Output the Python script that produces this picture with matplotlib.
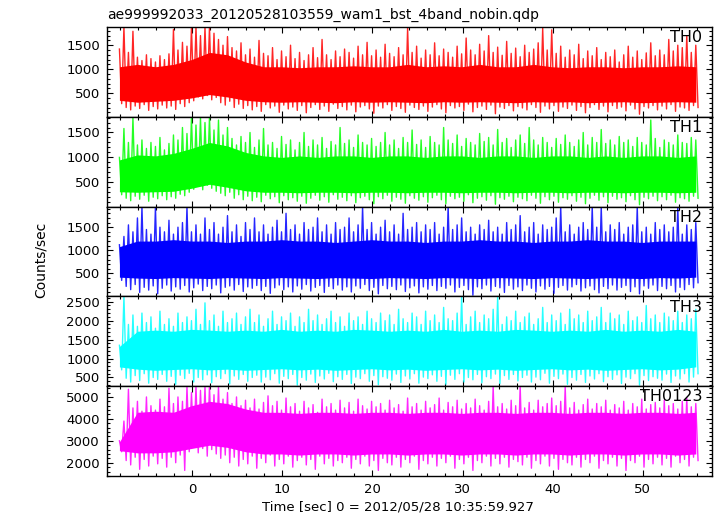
import numpy as np
import matplotlib
matplotlib.use("Agg")
import matplotlib.pyplot as plt
from matplotlib.ticker import MultipleLocator, FixedLocator

# ---------------- data ----------------
title = "ae999992033_20120528103559_wam1_bst_4band_nobin.qdp"
xlabel = "Time [sec] 0 = 2012/05/28 10:35:59.927"
ylabel = "Counts/sec"
names = ["TH0", "TH1", "TH2", "TH3", "TH0123"]
colors = ["#ff0000", "#00ff00", "#0000ff", "#00ffff", "#ff00ff"]

t_start = -8.1      # first sample time [s]
env_step = 0.5      # spacing of spike-envelope samples [s]
core_step = 2.0     # spacing of dense-core samples [s]

th0_hi = [1420, 1880, 1350, 1790, 1250, 1180, 1300, 1220, 1150, 1280,
          1200, 1320, 1830, 1400, 1560, 1480, 1880, 1880, 1700, 1880,
          1880, 1750, 1620, 1500, 1680, 1450, 1380, 1550, 1300, 1420,
          1250, 1600, 1330, 1280, 1450, 1200, 1380, 1260, 1500, 1220,
          1350, 1180, 1300, 1450, 1240, 1620, 1300, 1200, 1380, 1260,
          1420, 1350, 1230, 1480, 1300, 1560, 1280, 1400, 1250, 1520,
          1330, 1260, 1450, 1300, 1860, 1350, 1480, 1230, 1400, 1300,
          1550, 1280, 1420, 1350, 1250, 1480, 1320, 1650, 1400, 1300,
          1520, 1380, 1700, 1350, 1460, 1290, 1580, 1330, 1440, 1260,
          1500, 1350, 1420, 1550, 1860, 1400, 1820, 1330, 1480, 1250,
          1400, 1300, 1520, 1220, 1380, 1280, 1450, 1200, 1350, 1260,
          1400, 1150, 1300, 1480, 1250, 1380, 1200, 1340, 1550, 1280,
          1400, 1300, 1620, 1380, 1500, 1450, 1700, 1350, 1500]
th0_lo = [280, 200, 150, 230, 180, 260, 140, 220, 170, 250,
          190, 230, 160, 280, 220, 300, 340, 420, 380, 450,
          360, 410, 300, 250, 330, 200, 270, 180, 240, 150,
          220, 120, 260, 190, 230, 100, 250, 170, 210, 140,
          240, 90, 200, 260, 160, 230, 120, 270, 180, 220,
          150, 250, 110, 210, 240, 170, 80, 230, 190, 260,
          140, 220, 180, 100, 250, 200, 160, 230, 120, 210,
          260, 170, 90, 240, 190, 220, 140, 270, 110, 200,
          230, 160, 250, 70, 210, 180, 240, 130, 220, 190,
          150, 260, 200, 100, 230, 170, 240, 120, 210, 180,
          250, 140, 220, 90, 200, 260, 160, 230, 110, 240,
          180, 210, 130, 250, 170, 60, 220, 190, 240, 150,
          230, 170, 260, 120, 210, 190, 140, 240, 200]
th0_core_hi = [1050, 1100, 1050, 1100, 1200, 1350, 1300, 1150, 1050, 1050,
               1030, 1050, 1050, 1070, 1050, 1050, 1100, 1050, 1070, 1050,
               1100, 1050, 1050, 1100, 1050, 1030, 1050, 1050, 1030, 1050,
               1050, 1070, 1050]
th0_core_lo = [350, 310, 330, 350, 400, 470, 420, 350, 320, 310,
               320, 310, 300, 320, 310, 320, 310, 300, 320, 310,
               320, 310, 300, 320, 310, 320, 300, 310, 320, 300,
               310, 320, 310]

th1_hi = [1000, 1580, 1300, 1800, 1250, 1350, 1180, 1300, 1220, 1400,
          1150, 1280, 1450, 1350, 1600, 1480, 1800, 1650, 1800, 1700,
          1800, 1550, 1750, 1450, 1600, 1380, 1250, 1420, 1300, 1500,
          1200, 1350, 1580, 1250, 1300, 1180, 1420, 1260, 1350, 1150,
          1300, 1500, 1220, 1350, 1250, 1400, 1180, 1320, 1250, 1600,
          1280, 1350, 1200, 1450, 1300, 1250, 1380, 1220, 1300, 1500,
          1250, 1350, 1180, 1400, 1300, 1550, 1260, 1350, 1200, 1420,
          1300, 1250, 1600, 1350, 1280, 1450, 1220, 1380, 1300, 1250,
          1480, 1320, 1400, 1250, 1560, 1300, 1380, 1200, 1350, 1450,
          1280, 1600, 1350, 1250, 1400, 1300, 1200, 1380, 1260, 1450,
          1300, 1220, 1350, 1500, 1250, 1400, 1300, 1560, 1280, 1350,
          1250, 1420, 1300, 1350, 1220, 1400, 1300, 1250, 1750, 1380,
          1200, 1350, 1300, 1250, 1450, 1300, 1280, 1400, 1350]
th1_lo = [250, 180, 130, 220, 160, 240, 120, 200, 170, 230,
          150, 210, 180, 260, 230, 300, 360, 420, 350, 440,
          380, 320, 280, 230, 300, 180, 250, 150, 220, 130,
          200, 110, 240, 170, 210, 90, 230, 150, 190, 120,
          220, 80, 180, 240, 140, 210, 100, 250, 160, 200,
          130, 230, 90, 190, 220, 150, 70, 210, 170, 240,
          120, 200, 160, 80, 230, 180, 140, 210, 100, 190,
          240, 150, 70, 220, 170, 200, 120, 250, 90, 180,
          210, 140, 230, 60, 190, 160, 220, 110, 200, 170,
          130, 240, 180, 80, 210, 150, 220, 100, 190, 160,
          230, 120, 200, 70, 180, 240, 140, 210, 90, 220,
          160, 190, 110, 230, 150, 50, 200, 170, 220, 130,
          210, 150, 240, 100, 190, 170, 120, 220, 180]
th1_core_hi = [950, 1050, 1030, 1080, 1180, 1300, 1230, 1100, 1030, 1000,
               1030, 1000, 1030, 1030, 1000, 1030, 1030, 1000, 1030, 1030,
               1000, 1030, 1030, 1000, 1030, 1030, 1000, 1030, 1000, 1030,
               1030, 1000, 1030]
th1_core_lo = [310, 300, 310, 320, 380, 460, 400, 330, 300, 300,
               290, 300, 300, 290, 300, 300, 290, 300, 300, 290,
               300, 300, 290, 300, 300, 290, 300, 300, 290, 300,
               300, 290, 300]

th2_hi = [1120, 1300, 1550, 1400, 1700, 1945, 1450, 1350, 1945, 1500,
          1400, 1650, 1350, 1500, 1600, 1945, 1400, 1550, 1350, 1700,
          1450, 1600, 1350, 1500, 1750, 1400, 1550, 1300, 1600, 1450,
          1700, 1400, 1550, 1350, 1500, 1650, 1400, 1800, 1450, 1550,
          1350, 1600, 1450, 1500, 1700, 1400, 1550, 1350, 1600, 1450,
          1500, 1700, 1400, 1550, 1945, 1450, 1600, 1350, 1500, 1650,
          1400, 1550, 1350, 1800, 1450, 1500, 1600, 1400, 1550, 1450,
          1600, 1350, 1500, 1945, 1450, 1550, 1700, 1400, 1500, 1350,
          1550, 1450, 1650, 1400, 1500, 1350, 1600, 1450, 1550, 1750,
          1400, 1500, 1600, 1350, 1550, 1450, 1500, 1700, 1945, 1400,
          1550, 1350, 1500, 1600, 1450, 1945, 1500, 1945, 1400, 1550,
          1450, 1600, 1350, 1500, 1550, 1945, 1400, 1500, 1350, 1600,
          1450, 1550, 1400, 1500, 1945, 1350, 1550, 1450, 1600]
th2_lo = [350, 220, 150, 260, 90, 200, 140, 230, 60, 180,
          250, 120, 210, 160, 240, 100, 190, 270, 130, 220,
          170, 250, 80, 200, 230, 140, 260, 110, 210, 180,
          240, 130, 220, 70, 190, 250, 150, 210, 100, 230,
          160, 260, 120, 200, 240, 90, 220, 170, 250, 140,
          210, 100, 230, 180, 260, 130, 200, 60, 240, 170,
          220, 150, 250, 110, 190, 230, 80, 210, 160, 240,
          130, 220, 180, 250, 100, 200, 240, 150, 30, 210,
          170, 250, 120, 220, 190, 90, 240, 160, 210, 130,
          250, 180, 100, 230, 160, 220, 70, 200, 240, 140,
          210, 260, 120, 190, 230, 150, 80, 220, 170, 250,
          140, 200, 240, 110, 210, 60, 230, 180, 250, 130,
          220, 170, 240, 100, 200, 150, 260, 190, 300]
th2_core_hi = [1080, 1200, 1200, 1230, 1200, 1200, 1170, 1200, 1200, 1230,
               1200, 1200, 1170, 1200, 1230, 1200, 1200, 1170, 1200, 1200,
               1230, 1200, 1200, 1170, 1200, 1200, 1230, 1200, 1200, 1170,
               1200, 1200, 1200]
th2_core_lo = [420, 400, 390, 410, 400, 390, 410, 400, 390, 410,
               400, 390, 410, 400, 390, 410, 400, 390, 410, 400,
               390, 410, 400, 390, 410, 400, 390, 410, 400, 390,
               410, 400, 420]

th3_hi = [1350, 2640, 1900, 2150, 1850, 2200, 1950, 2100, 1800, 2250,
          1900, 2050, 1850, 2200, 1950, 2100, 2000, 2300, 1900, 2470,
          2000, 2150, 1850, 2250, 1950, 2050, 2200, 1900, 2100, 2300,
          1950, 2150, 1850, 2050, 2250, 1900, 2100, 2000, 2200, 1850,
          2100, 1950, 2300, 2000, 2150, 1900, 2050, 2250, 1950, 2100,
          1850, 2200, 2000, 2100, 1900, 2250, 2050, 1950, 2200, 2000,
          2150, 1900, 2300, 2050, 1950, 2200, 2100, 1900, 2250, 2000,
          2150, 1950, 2350, 2050, 2000, 2200, 2640, 1900, 2100, 2250,
          1950, 2150, 2050, 2300, 2640, 1900, 2100, 2000, 2250, 1950,
          2100, 2200, 1900, 2050, 2350, 1950, 2150, 2000, 2200, 1900,
          2300, 2050, 2150, 1950, 2250, 2000, 2100, 2350, 1950, 2200,
          2050, 2150, 1900, 2250, 2000, 2100, 1950, 2400, 2050, 2150,
          1950, 2200, 2100, 2000, 2250, 1950, 2150, 2050, 2300]
th3_lo = [700, 480, 380, 550, 420, 600, 350, 500, 450, 580,
          400, 530, 320, 560, 470, 610, 380, 500, 440, 570,
          360, 520, 470, 600, 330, 540, 450, 580, 400, 500,
          560, 380, 510, 440, 600, 350, 530, 470, 580, 300,
          500, 430, 590, 370, 540, 460, 610, 390, 520, 450,
          580, 340, 510, 470, 600, 400, 550, 310, 520, 480,
          430, 590, 370, 540, 460, 600, 350, 510, 470, 570,
          400, 530, 320, 560, 450, 600, 380, 500, 440, 580,
          360, 520, 470, 590, 340, 550, 450, 580, 410, 500,
          560, 380, 510, 440, 610, 350, 530, 470, 590, 320,
          500, 430, 580, 370, 540, 460, 600, 390, 520, 450,
          570, 340, 510, 470, 600, 300, 550, 420, 520, 480,
          430, 590, 370, 540, 460, 600, 380, 510, 600]
th3_core_hi = [1320, 1720, 1750, 1720, 1770, 1750, 1720, 1750, 1720, 1770,
               1720, 1750, 1720, 1770, 1750, 1720, 1750, 1720, 1770, 1720,
               1750, 1720, 1770, 1750, 1720, 1750, 1720, 1770, 1720, 1750,
               1720, 1770, 1720]
th3_core_lo = [780, 720, 690, 710, 730, 700, 720, 690, 710, 730,
               700, 720, 690, 710, 730, 700, 720, 690, 710, 730,
               700, 720, 690, 710, 730, 700, 720, 690, 710, 730,
               700, 720, 780]

th0123_hi = [3000, 3900, 5350, 4500, 4800, 4350, 5000, 4600, 4400, 4900,
             4550, 5400, 4700, 5000, 4800, 5490, 5200, 5490, 5300, 5490,
             5490, 5100, 5490, 4900, 5200, 4700, 5000, 4600, 4850, 4500,
             4900, 4450, 4750, 5050, 4600, 4800, 4400, 4950, 4550, 4700,
             4350, 4800, 4500, 4650, 4300, 4900, 4550, 4700, 4400, 4850,
             4500, 4750, 4350, 4900, 4600, 4450, 4800, 4550, 4700, 4400,
             4850, 4500, 4650, 4350, 4950, 4550, 4700, 4400, 4800, 4500,
             4650, 4950, 4400, 4750, 4550, 4850, 4450, 4700, 4500, 4900,
             4600, 4400, 4800, 5490, 4550, 4700, 4450, 4850, 4600, 5490,
             4500, 4750, 4400, 4850, 4550, 4700, 4950, 4600, 4800, 5490,
             4500, 4750, 4400, 4650, 4900, 4450, 4700, 4550, 4850, 4400,
             4650, 4500, 4800, 4400, 4700, 4550, 4900, 4450, 4650, 4750,
             4500, 4850, 4600, 4700, 4450, 4800, 4950, 4550, 4700]
th0123_lo = [2500, 2100, 1900, 2250, 1700, 2150, 1850, 2300, 1950, 2200,
             1800, 2250, 2000, 2350, 1650, 2500, 2700, 2450, 2650, 2300,
             2600, 2400, 2200, 2350, 2000, 2250, 1850, 2150, 1950, 2300,
             1750, 2200, 2000, 2350, 1850, 2150, 1950, 2300, 1800, 2100,
             2250, 1900, 2150, 1700, 2300, 1950, 2200, 1850, 2100, 2000,
             2250, 1750, 2150, 1950, 2300, 1850, 2100, 1650, 2200, 2000,
             1900, 2250, 1800, 2150, 2000, 2300, 1700, 2100, 1950, 2250,
             1850, 2200, 2000, 2300, 1750, 2150, 1950, 2250, 1650, 2100,
             2000, 2300, 1850, 2200, 1950, 2250, 1800, 2150, 2050, 1900,
             2250, 1750, 2100, 1950, 2300, 1850, 2200, 1700, 2150, 2000,
             1900, 2250, 1800, 2150, 2000, 2300, 1750, 2100, 1950, 2250,
             1850, 2200, 1650, 2100, 2000, 2300, 1800, 2150, 1950, 2250,
             1900, 2200, 1800, 2300, 2000, 2150, 1850, 2250, 2100]
th0123_core_hi = [2950, 4300, 4350, 4300, 4600, 4800, 4700, 4450, 4300, 4300,
                  4250, 4300, 4300, 4250, 4300, 4300, 4250, 4300, 4300, 4250,
                  4300, 4300, 4250, 4300, 4300, 4250, 4300, 4300, 4250, 4300,
                  4300, 4250, 4300]
th0123_core_lo = [2550, 2450, 2450, 2500, 2650, 2800, 2700, 2500, 2400, 2400,
                  2350, 2400, 2400, 2350, 2400, 2400, 2350, 2400, 2400, 2350,
                  2400, 2400, 2350, 2400, 2400, 2350, 2400, 2400, 2350, 2400,
                  2400, 2350, 2400]

his = [th0_hi, th1_hi, th2_hi, th3_hi, th0123_hi]
los = [th0_lo, th1_lo, th2_lo, th3_lo, th0123_lo]
core_his = [th0_core_hi, th1_core_hi, th2_core_hi, th3_core_hi, th0123_core_hi]
core_los = [th0_core_lo, th1_core_lo, th2_core_lo, th3_core_lo, th0123_core_lo]

# axis settings per panel
ylims = [(6, 1880), (12, 1815), (4, 1945), (270, 2640), (1395, 5490)]
ymajor_ticks = [[500, 1000, 1500], [500, 1000, 1500], [500, 1000, 1500],
                [500, 1000, 1500, 2000, 2500], [2000, 3000, 4000, 5000]]
yminor = [100, 100, 100, 100, 200]
xlim = (-9.48, 57.7)

# ---------------- figure ----------------
plt.rcParams['font.family'] = ['DejaVu Sans']
W, H = 717, 516
fig = plt.figure(figsize=(W / 100, H / 100), dpi=100)

left_px, right_px = 107, 712
top_px, bot_px = 27, 476
ph = (bot_px - top_px) / 5.0
fs = 9.5

for i in range(5):
    y0 = 1 - (top_px + ph * (i + 1)) / H
    ax = fig.add_axes([left_px / W, y0, (right_px - left_px) / W, ph / H])

    hi = np.asarray(his[i], float)
    lo = np.asarray(los[i], float)
    n = min(len(hi), len(lo))
    hi, lo = hi[:n], lo[:n]
    t = t_start + env_step * np.arange(n)
    xs = np.empty(2 * n)
    ys = np.empty(2 * n)
    xs[0::2] = t
    xs[1::2] = t + env_step / 2
    ys[0::2] = hi
    ys[1::2] = lo

    ch = np.asarray(core_his[i], float)
    cl = np.asarray(core_los[i], float)
    m = min(len(ch), len(cl))
    tc = t_start + core_step * np.arange(m)
    ax.fill_between(tc, cl[:m], ch[:m], color=colors[i], lw=0)
    ax.plot(xs, ys, color=colors[i], lw=1.0, alpha=0.85)

    ax.set_xlim(*xlim)
    ax.set_ylim(*ylims[i])
    ax.xaxis.set_major_locator(MultipleLocator(10))
    ax.xaxis.set_minor_locator(MultipleLocator(2))
    ax.yaxis.set_major_locator(FixedLocator(ymajor_ticks[i]))
    ax.yaxis.set_minor_locator(MultipleLocator(yminor[i]))
    ax.tick_params(which='both', direction='in', top=True, right=True,
                   width=0.8, labelsize=fs, colors='black')
    ax.tick_params(which='major', length=4.5, pad=5)
    ax.tick_params(which='minor', length=2.5)
    ax.tick_params(axis='x', labelbottom=(i == 4), pad=5)
    for s in ax.spines.values():
        s.set_linewidth(1.0)
        s.set_color('black')
    ax.text(0.984, 0.965, names[i], transform=ax.transAxes, ha='right',
            va='top', fontsize=11.5, family=['Liberation Sans Narrow', 'DejaVu Sans'])

fig.text(left_px / W, 1 - 19 / H, title, ha='left', va='baseline', fontsize=10)
fig.text(41 / W, 1 - 260 / H, ylabel, rotation=90, ha='center', va='center', fontsize=10)
fig.text(398 / W, 1 - 510 / H, xlabel, ha='center', va='baseline', fontsize=fs)

fig.savefig("out.png", dpi=100)
